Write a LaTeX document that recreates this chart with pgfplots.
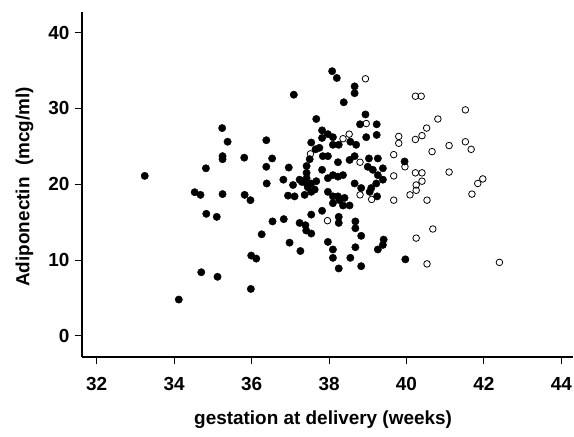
\documentclass[border=0pt]{standalone}
\usepackage{pgfplots}
\pgfplotsset{compat=1.18}
\usepackage{fontspec}
\setmainfont{Liberation Sans}

\pgfplotstableread{
x y
33.24 21.1
34.12 4.8
34.53 18.95
34.68 18.6
34.82 22.1
34.83 16.1
35.10 15.7
34.70 8.4
35.12 7.8
35.24 27.4
35.38 25.6
35.25 23.7
35.25 23.3
35.25 18.7
35.81 23.5
35.82 18.6
35.97 17.9
35.98 6.2
35.99 10.6
36.12 10.2
36.26 13.4
36.38 25.8
36.53 23.4
36.38 22.3
36.39 20.1
36.54 15.1
36.83 15.4
36.82 20.6
36.96 22.2
37.09 31.8
36.98 12.3
37.26 11.2
36.94 18.5
37.11 18.4
38.08 34.9
38.20 34.0
38.66 32.9
38.66 32.0
38.38 30.8
38.94 29.2
38.80 27.9
39.23 27.9
37.67 28.6
37.82 27.1
37.97 26.6
38.10 26.2
37.82 26.1
38.10 25.2
38.25 25.2
37.54 25.5
38.55 25.6
38.70 25.2
38.96 26.2
39.23 26.5
37.65 24.6
37.75 24.8
37.84 23.7
37.97 23.7
37.50 23.3
37.42 22.4
37.42 21.5
37.42 20.8
37.42 20.1
37.45 19.6
37.30 20.3
37.82 21.9
38.23 22.9
38.53 23.2
38.66 23.7
39.03 23.4
39.26 23.4
39.39 22.1
39.00 22.3
39.13 21.9
39.26 21.2
39.39 20.6
37.97 20.8
38.10 21.2
38.23 21.0
38.36 21.2
37.67 20.4
37.54 20.1
38.66 20.1
38.83 19.5
39.09 19.5
39.22 20.1
37.24 20.6
37.07 19.9
37.37 18.6
37.54 19.0
37.63 19.3
37.97 19.0
38.10 18.4
38.23 18.4
38.40 18.2
38.53 17.2
38.10 17.5
38.27 17.9
38.36 17.2
39.05 19.0
39.24 18.4
37.82 16.5
37.24 14.9
37.39 14.6
37.54 16.0
37.54 13.5
37.41 13.9
38.25 15.7
38.25 14.9
38.68 15.1
38.68 14.2
38.83 13.2
37.97 12.4
38.10 11.4
38.10 10.3
38.25 8.9
38.55 10.3
38.83 9.2
38.68 11.7
39.26 11.4
39.39 12.0
39.41 12.7
39.97 10.1
}\filled

\pgfplotstableread{
x y
38.94 33.9
40.23 31.6
40.38 31.6
41.52 29.8
40.81 28.6
40.52 27.4
40.40 26.4
40.23 25.9
39.80 26.3
39.80 25.4
41.52 25.6
41.67 24.6
41.10 25.1
40.66 24.3
39.67 23.9
39.96 22.3
39.67 21.1
40.23 21.5
40.40 21.5
40.40 20.4
40.25 19.9
40.25 19.2
40.09 18.6
41.10 21.6
41.97 20.7
41.84 20.1
41.69 18.7
40.53 17.9
39.67 17.9
40.68 14.1
40.25 12.9
40.53 9.5
42.40 9.7
37.52 24.0
38.52 26.6
38.36 26.0
38.96 28.0
38.80 22.9
37.96 15.2
38.80 18.6
39.10 18.0
}\open

\pgfplotstableread{
x y
39.95 23.0
}\filledtop

\begin{document}
\begin{tikzpicture}[font=\bfseries\fontsize{19}{22}\selectfont]
% fixed page: axis box sits at (0,0)--(491bp,345bp)
\useasboundingbox (-82bp,-80bp) rectangle (492bp,357bp);
\begin{axis}[
  scale only axis, width=491bp, height=345bp,
  xmin=31.62, xmax=44.3, ymin=-2.77, ymax=42.7,
  axis x line=bottom, axis y line=left,
  axis line style={-, line width=1.3pt},
  xtick={32,34,...,44}, ytick={0,10,...,40},
  tick align=outside, major tick length=7bp,
  tick style={black, line width=1pt},
  /pgf/number format/assume math mode=true,
  ticklabel style={font=\bfseries\fontsize{19}{22}\selectfont},
  xticklabel style={yshift=-10bp},
  yticklabel style={xshift=-2bp},
  label style={font=\bfseries\fontsize{19}{22}\selectfont},
  xlabel={gestation at delivery (weeks)},
  ylabel={Adiponectin\hspace{0.6em}(mcg/ml)},
  xlabel style={at={(axis description cs:0.491,0)}, anchor=center, yshift=-63bp},
  ylabel style={at={(axis description cs:-0.117,0.493)}, anchor=center},
  clip=false,
]
\addplot[only marks, mark=*, mark size=3.7bp, black] table {\filled};
\addplot[only marks, mark=o, mark size=3.3bp, black, line width=0.8pt,
  mark options={fill=white}] table {\open};
\addplot[only marks, mark=*, mark size=3.7bp, black] table {\filledtop};
\end{axis}
\end{tikzpicture}
\end{document}
